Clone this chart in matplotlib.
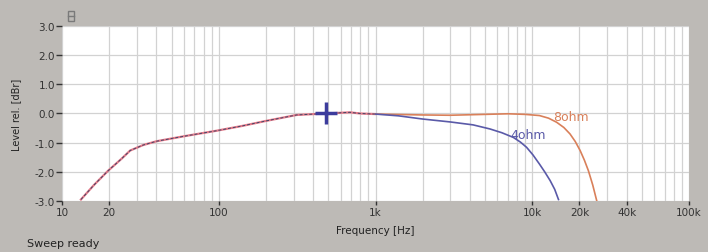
import matplotlib.pyplot as plt
import matplotlib.patches as patches
from matplotlib.ticker import FixedLocator, LogLocator, NullFormatter
import numpy as np

# frequency response
lowFreq = [13.2, 16, 19.7, 24, 27.2, 33, 40.2, 60, 97, 140, 202, 314, 480, 687, 800, 1000]
lowLevel = [-2.95, -2.45, -1.96, -1.55, -1.27, -1.08, -0.95, -0.78, -0.59, -0.43, -0.25, -0.05, 0.0, 0.04, 0.0, -0.02]

ohm8Freq = [1000, 2000, 3000, 5000, 7000, 9000, 11100, 12700, 14300, 15900, 17400, 18800, 20200, 21500, 22800, 24300, 25800]
ohm8Level = [-0.02, -0.05, -0.06, -0.03, -0.01, -0.03, -0.07, -0.16, -0.30, -0.48, -0.70, -0.96, -1.27, -1.60, -1.96, -2.45, -3.0]

ohm4Freq = [1000, 1400, 2000, 3000, 4190, 5370, 6400, 7570, 8400, 9200, 10100, 11100, 12000, 13000, 13900, 14700]
ohm4Level = [-0.02, -0.08, -0.19, -0.29, -0.39, -0.53, -0.66, -0.82, -0.98, -1.16, -1.42, -1.73, -2.0, -2.30, -2.60, -2.95]

cursorFreq = 480
cursorLevel = 0.0

xTicks = [10, 20, 100, 1000, 10000, 20000, 40000, 100000]
xTickLabels = ['10', '20', '100', '1k', '10k', '20k', '40k', '100k']
yTicks = [3, 2, 1, 0, -1, -2, -3]
yTickLabels = ['3.0', '2.0', '1.0', '0.0', '-1.0', '-2.0', '-3.0']

bgColor = '#bdbab6'
orange = '#d9805a'
pink = '#e47b8a'
blue = '#5a5aa8'

fig = plt.figure(figsize=(7.08, 2.53), dpi=100, facecolor=bgColor)
ax = fig.add_axes([0.0876, 0.2016, 0.8856, 0.6917])
ax.set_facecolor('white')

ax.set_xscale('log')
ax.set_xlim(10, 100000)
ax.set_ylim(-3, 3)

ax.xaxis.set_minor_locator(LogLocator(base=10, subs=np.arange(2, 10)))
ax.xaxis.set_minor_formatter(NullFormatter())
ax.grid(True, which='both', axis='x', color='#d2d2d2', linewidth=0.9)
ax.grid(True, which='major', axis='y', color='#d2d2d2', linewidth=0.9)
ax.set_axisbelow(True)

ax.xaxis.set_major_locator(FixedLocator(xTicks))
ax.set_xticklabels(xTickLabels)
ax.set_yticks(yTicks)
ax.set_yticklabels(yTickLabels)
ax.tick_params(axis='both', which='major', labelsize=7.5, colors='#333333', length=4, width=1)
ax.tick_params(axis='x', which='minor', length=0)
ax.tick_params(axis='x', which='major', direction='out', length=3, pad=1)
ax.tick_params(axis='y', pad=1)

for spine in ax.spines.values():
    spine.set_visible(False)

ax.plot(lowFreq, lowLevel, color=pink, linewidth=1.6)
ax.plot(lowFreq, lowLevel, color='#444466', linewidth=0.7, dashes=(3, 2))
ax.plot(ohm8Freq, ohm8Level, color=orange, linewidth=1.2)
ax.plot(ohm4Freq, ohm4Level, color=blue, linewidth=1.2)

ax.plot([cursorFreq], [cursorLevel], marker='+', color='#3c3c9c', markersize=16, markeredgewidth=2.5)

ax.text(13500, -0.12, '8ohm', color=orange, fontsize=9, va='center', ha='left')
ax.text(7300, -0.72, '4ohm', color=blue, fontsize=9, va='center', ha='left')

ax.set_xlabel('Frequency [Hz]', fontsize=7.5, color='#222222', labelpad=6)
ax.set_ylabel('Level rel. [dBr]', fontsize=7, color='#222222', labelpad=10)

fig.text(0.038, 0.025, 'Sweep ready', fontsize=8, color='#222222')

# small window icon above the y axis
fig.patches.append(patches.Rectangle((0.0965, 0.915), 0.0075, 0.036, transform=fig.transFigure,
                                     fill=False, edgecolor='#7a7a7a', linewidth=1))
fig.lines.append(plt.Line2D([0.0965, 0.104], [0.933, 0.933], transform=fig.transFigure,
                            color='#7a7a7a', linewidth=1))

fig.savefig('out.png', dpi=100, facecolor=bgColor)
